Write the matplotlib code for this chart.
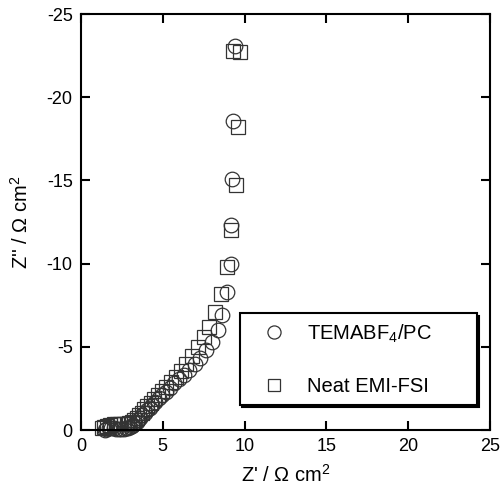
import numpy as np
from matplotlib import pyplot as plt

plt.rcParams['font.family'] = ['Liberation Sans', 'DejaVu Sans']
plt.rcParams['mathtext.fontset'] = 'custom'
plt.rcParams['mathtext.rm'] = 'Liberation Sans'
plt.rcParams['mathtext.it'] = 'Liberation Sans:italic'
plt.rcParams['axes.unicode_minus'] = False

# TEMABF4/PC (circles): Z' and Z''
temabf4_re = [9.41, 9.29, 9.25, 9.2, 9.17, 8.9, 8.6, 8.35, 8.0, 7.65, 7.3, 6.95, 6.6, 6.3,
              6.0, 5.7, 5.45, 5.2, 4.95, 4.75, 4.55, 4.35, 4.2, 4.05, 3.9, 3.75, 3.6, 3.5,
              3.4, 3.3, 3.2, 3.1, 3.0, 2.9, 2.75, 2.6, 2.45, 2.3, 2.15, 2.0, 1.85, 1.7,
              1.55, 1.45]
temabf4_im = [-23.1, -18.6, -15.1, -12.3, -10.0, -8.3, -6.9, -6.0, -5.3, -4.8, -4.35, -3.95,
              -3.6, -3.3, -3.05, -2.8, -2.55, -2.3, -2.1, -1.9, -1.7, -1.5, -1.35, -1.2,
              -1.05, -0.9, -0.75, -0.62, -0.5, -0.4, -0.3, -0.22, -0.16, -0.12, -0.1,
              -0.08, -0.07, -0.07, -0.08, -0.1, -0.12, -0.1, -0.05, 0.0]

# Neat EMI-FSI (squares)
emifsi_re = [9.7, 9.3, 9.6, 9.5, 9.2, 8.9, 8.55, 8.2, 7.8, 7.5, 7.15, 6.8, 6.45, 6.1, 5.8,
             5.5, 5.2, 4.95, 4.7, 4.45, 4.25, 4.05, 3.85, 3.7, 3.55, 3.4, 3.25, 3.1, 2.95,
             2.8, 2.6, 2.4, 2.2, 2.0, 1.8, 1.6, 1.4, 1.3]
emifsi_im = [-22.7, -22.8, -18.2, -14.7, -12.0, -9.8, -8.2, -7.1, -6.2, -5.6, -5.0, -4.45,
             -3.95, -3.55, -3.2, -2.9, -2.6, -2.35, -2.1, -1.85, -1.65, -1.45, -1.25, -1.05,
             -0.9, -0.75, -0.6, -0.5, -0.42, -0.38, -0.35, -0.35, -0.35, -0.35, -0.3,
             -0.25, -0.2, -0.15]

fig = plt.figure(figsize=(5.03, 4.87), dpi=100)
ax = fig.add_axes([0.161, 0.117, 0.813, 0.854])

ax.plot(temabf4_re, temabf4_im, ls='none', marker='o', ms=10.5, mfc='none',
        mec='#333333', mew=0.9, label='TEMABF$_4$/PC', clip_on=False)
ax.plot(emifsi_re, emifsi_im, ls='none', marker='s', ms=10, mfc='none',
        mec='#333333', mew=0.9, label='Neat EMI-FSI', clip_on=False)

ax.set_xlim(0, 25)
ax.set_ylim(0, -25)
ax.set_xticks(np.arange(0, 26, 5))
ax.set_yticks(np.arange(0, -26, -5))
ax.tick_params(direction='in', length=6.5, width=1.5, top=True, right=True,
               labelsize=13, pad=6)
for s in ax.spines.values():
    s.set_linewidth(1.5)

ax.set_xlabel("Z' / \u03a9 cm$^2$", fontsize=14.5, labelpad=6)
ax.set_ylabel("Z'' / \u03a9 cm$^2$", fontsize=14.5, labelpad=11)

leg = ax.legend(loc='lower left', bbox_to_anchor=(0.389, 0.060, 0.579, 0.233),
                mode='expand', borderaxespad=0, fontsize=14.5, fancybox=False,
                edgecolor='black', framealpha=1, labelspacing=1.6, borderpad=0.45,
                handlelength=2.5, handletextpad=0.35, markerscale=0.9,
                shadow={'ox': 1.5, 'oy': -1.5, 'color': 'black', 'alpha': 1})
leg.get_frame().set_linewidth(1.5)

plt.savefig('out.png', dpi=100)
